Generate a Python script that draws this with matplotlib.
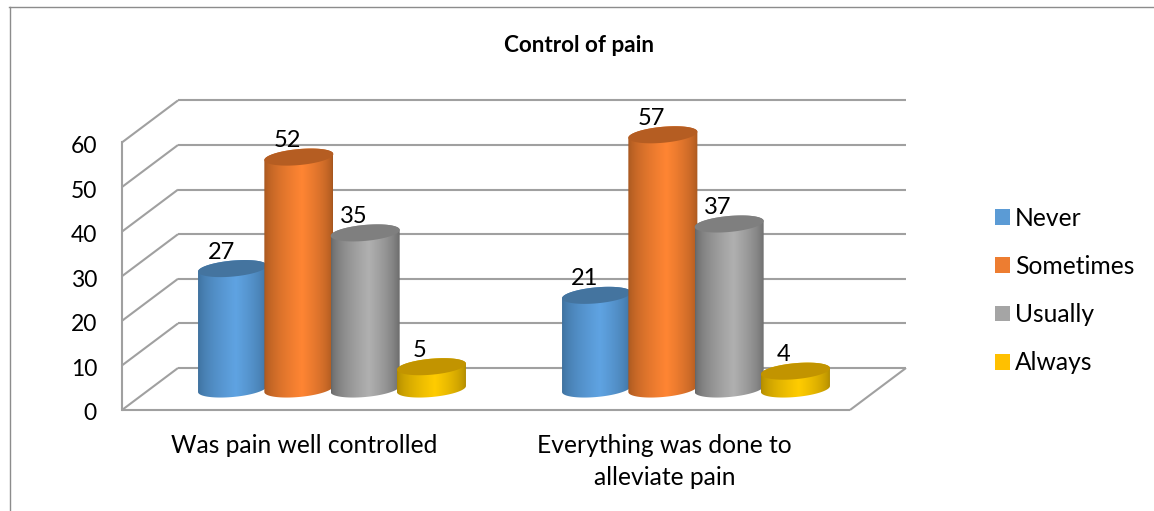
import numpy as np
import matplotlib
matplotlib.use("Agg")
import matplotlib.pyplot as plt
from matplotlib.patches import Polygon, Patch
from matplotlib.lines import Line2D
from matplotlib.transforms import ScaledTranslation

title = "Control of pain"
categories = ["Was pain well controlled", "Everything was done to\nalleviate pain"]
series_names = ["Never", "Sometimes", "Usually", "Always"]
never = [27, 21]
sometimes = [52, 57]
usually = [35, 37]
always = [5, 4]
series_values = [never, sometimes, usually, always]
y_ticks = [0, 10, 20, 30, 40, 50, 60]

legend_colors = ["#5b9bd5", "#ed7d31", "#a5a5a5", "#ffc000"]
edge_colors = ["#3d6f9c", "#a5561f", "#666666", "#b08a00"]
mid_colors = ["#5fa3e2", "#ff8533", "#b0b0b0", "#ffcc00"]
top_colors = ["#44749f", "#b55d22", "#7f7f7f", "#c29400"]

FONT = "Lato"
GRID = "#a0a0a0"
W, H = 1154, 511
plt.rcParams["font.family"] = FONT

fig = plt.figure(figsize=(W / 100, H / 100), dpi=100)
AX_L, AX_R, AX_B, AX_T = 122, 850, 410, 142.4
ax = fig.add_axes([AX_L / W, 1 - AX_B / H, (AX_R - AX_L) / W, (AX_B - AX_T) / H])
ax.set_xlim(0, 2)
ax.set_ylim(0, 60)
px_x = 2 / (AX_R - AX_L)
px_y = 60 / (AX_B - AX_T)

for s in ["top", "right", "bottom"]:
    ax.spines[s].set_visible(False)
ax.spines["left"].set_color(GRID)
ax.spines["left"].set_linewidth(1.5)
ax.patch.set_visible(False)

# walls / floor
depth_x, depth_y = 56 * px_x, 42 * px_y
kw = dict(color=GRID, lw=1.5, clip_on=False, zorder=1, solid_capstyle="butt")
for v in y_ticks:
    ax.plot([0, depth_x], [v, v + depth_y], **kw)
    ax.plot([depth_x, 2 + depth_x], [v + depth_y, v + depth_y], **kw)
ax.plot([0, 2], [0, 0], **kw)
ax.plot([2, 2 + depth_x], [0, depth_y], **kw)

# cylinders
n = len(series_names)
step = 66.3 * px_x
half_w = 34.5 * px_x
tilt = 3.0 * px_y
half_h = 8.0 * px_y
t = np.linspace(0, 2 * np.pi, 121)


def ellipse(cx, cy, tt):
    return cx + half_w * np.cos(tt), cy + tilt * np.cos(tt) + half_h * np.sin(tt)


z = 3
for j, cat_vals in enumerate(zip(*series_values)):
    for i, val in enumerate(cat_vals):
        cx = j + 0.5 + (i - (n - 1) / 2) * step + depth_x / 2
        base = depth_y / 2
        top = base + val
        bx, by = ellipse(cx, base, np.linspace(np.pi, 2 * np.pi, 60))
        tx, ty = ellipse(cx, top, np.linspace(0, np.pi, 60))
        poly = Polygon(np.column_stack([np.r_[bx, tx], np.r_[by, ty]]), closed=True,
                       transform=ax.transData, fc="none", ec="none")
        ax.add_patch(poly)
        poly.set_clip_on(False)
        e = np.array(matplotlib.colors.to_rgb(edge_colors[i]))
        m = np.array(matplotlib.colors.to_rgb(mid_colors[i]))
        u = np.linspace(0, 1, 80)
        f = np.clip(1 - np.abs(u - 0.55) / 0.55, 0, 1) ** 0.6
        f = np.where(u > 0.55, np.clip((1 - u) / 0.45, 0, 1) ** 0.6, f)
        grad = (e[None, :] * (1 - f[:, None]) + m[None, :] * f[:, None])[None, :, :]
        im = ax.imshow(grad, extent=[cx - half_w, cx + half_w, base - 3 * half_h, top + 3 * half_h],
                       aspect="auto", interpolation="bilinear", zorder=z)
        im.set_clip_path(poly)
        im.set_clip_box(fig.bbox)
        ex, ey = ellipse(cx, top, t)
        ax.fill(ex, ey, fc=top_colors[i], ec="none", clip_on=False, zorder=z + 0.5)
        ax.annotate(str(val), (cx, top), xytext=(-11.5 * 0.72, 16.5 * 0.72), textcoords="offset points",
                    ha="center", va="center", fontsize=17, color="black", zorder=20,
                    annotation_clip=False)
        z += 1

ax.set_xlim(0, 2)
ax.set_ylim(0, 60)
ax.set_yticks(y_ticks)
ax.set_xticks([0.5, 1.49])
ax.set_xticklabels(categories, linespacing=1.48)
ax.tick_params(axis="y", length=0, pad=18, labelsize=16.5, labelcolor="black")
ax.tick_params(axis="x", length=0, pad=17.5, labelsize=17.7, labelcolor="black")
shift = ScaledTranslation(0, -2 / 100, fig.dpi_scale_trans)
for lab in ax.get_yticklabels():
    lab.set_transform(lab.get_transform() + shift)

fig.text(579 / W, 1 - 46 / H, title, ha="center", va="center", fontsize=16.2, fontweight="bold")

handles = [Patch(fc=c, ec="none") for c in legend_colors]
leg = fig.legend(handles, series_names, loc="center left", bbox_to_anchor=(995 / W, 1 - 290.5 / H),
                 frameon=False, fontsize=17.7, borderpad=0, borderaxespad=0,
                 handlelength=10.8 / 17.7, handleheight=10.8 / 17.7, handletextpad=5 * 0.72 / 17.7,
                 labelspacing=1.025)

# top and left border of the frame
fig.add_artist(Line2D([9.5 / W, 9.5 / W], [0, 1 - 7 / H], color="#8c8c8c", lw=1.0))
fig.add_artist(Line2D([9 / W, 1], [1 - 7.5 / H, 1 - 7.5 / H], color="#8c8c8c", lw=1.0))

fig.savefig("out.png", dpi=100)
